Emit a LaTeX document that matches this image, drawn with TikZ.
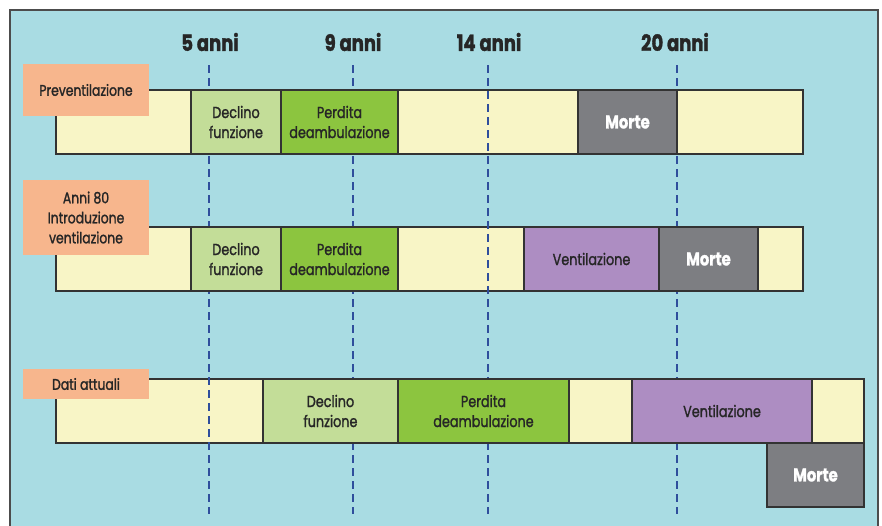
\documentclass[tikz,border=0pt]{standalone}
\usepackage{fontspec}
\setmainfont{Poppins}[FakeStretch=0.8, FakeBold=1.4]
\usetikzlibrary{positioning}

\definecolor{sfondo}{HTML}{A9DCE3}
\definecolor{giallo}{HTML}{F8F5C6}
\definecolor{verdino}{HTML}{C3DD98}
\definecolor{verde}{HTML}{8CC53F}
\definecolor{viola}{HTML}{AD8DC2}
\definecolor{grigio}{HTML}{7D7E82}
\definecolor{arancio}{HTML}{F7B68D}
\definecolor{tratto}{HTML}{2F4E9C}

\tikzset{
  seg/.style={draw=black!80, line width=1.1pt, outer sep=0pt, inner sep=0pt,
    minimum height=64pt, align=center, text=black!85,
    font=\fontsize{16}{20}\selectfont},
  barra/.style={seg, fill=giallo},
  declino/.style={seg, fill=verdino},
  perdita/.style={seg, fill=verde},
  ventil/.style={seg, fill=viola},
  morte/.style={seg, fill=grigio, text=white, font=\fontsize{18.5}{20}\selectfont\bfseries},
  etichetta/.style={fill=arancio, minimum width=126pt, inner sep=0pt, align=center,
    text=black!85, font=\fontsize{15.5}{20}\selectfont},
  anni/.style={font=\fontsize{22.5}{24}\selectfont\bfseries, text=black!85},
  tacca/.style={tratto, line width=2.2pt, dash pattern=on 7.5pt off 5.5pt}
}

\begin{document}
\begin{tikzpicture}[x=1pt,y=-1pt]
\clip (0,0) rectangle (882,525);
\fill[white] (0,0) rectangle (882,525);
\draw[fill=sfondo, draw=black!70, line width=1.2pt] (10,10) rectangle (878,540);

% eta'
\node[anni] (h5) at (210,42) {5 anni};
\node[anni] (h9) at (353,42) {9 anni};
\node[anni] (h14) at (489,42) {14 anni};
\node[anni] (h20) at (675,42) {20 anni};

% barre
\node[barra, minimum width=747pt] (bar1) at (429.5,122) {};
\node[barra, minimum width=747pt] (bar2) at (429.5,259) {};
\node[barra, minimum width=808pt] (bar3) at (460,411) {};

\coordinate (t5) at (209,65);
\coordinate (t9) at (353,65);
\coordinate (t14) at (488,65);
\coordinate (t20) at (677,65);
\coordinate (b5) at (209,514);
\coordinate (b9) at (353,514);
\coordinate (b14) at (488,514);
\coordinate (b20) at (677,514);

\draw[tacca] (t5) -- (b5);
\draw[tacca] (t9) -- (b9);
\draw[tacca] (t14) -- (b14);
\draw[tacca] (t20) -- (b20);

% preventilazione
\node[declino, minimum width=90pt, anchor=west] (d1) at ([xshift=135pt]bar1.west) {Declino\\funzione};
\node[perdita, minimum width=117pt, right=0pt of d1] (p1) {Perdita\\deambulazione};
\node[morte, minimum width=99pt, anchor=west] (m1) at ([xshift=522pt]bar1.west) {Morte};
\node[etichetta, minimum height=52pt] (lab1) at (86,90) {Preventilazione};

% anni 80
\node[declino, minimum width=90pt, anchor=west] (d2) at ([xshift=135pt]bar2.west) {Declino\\funzione};
\node[perdita, minimum width=117pt, right=0pt of d2] (p2) {Perdita\\deambulazione};
\node[ventil, minimum width=135pt, anchor=west] (v2) at ([xshift=468pt]bar2.west) {Ventilazione};
\node[morte, minimum width=99pt, right=0pt of v2] (m2) {Morte};
\node[etichetta, minimum height=75pt] (lab2) at (86,217.5) {Anni 80\\Introduzione\\ventilazione};

% dati attuali
\node[declino, minimum width=135pt, anchor=west] (d3) at ([xshift=207pt]bar3.west) {Declino\\funzione};
\node[perdita, minimum width=171pt, right=0pt of d3] (p3) {Perdita\\deambulazione};
\node[ventil, minimum width=180pt, anchor=west] (v3) at ([xshift=576pt]bar3.west) {Ventilazione};
\node[morte, minimum width=97pt, anchor=north east] (m3) at (bar3.south east) {Morte};
\node[etichetta, minimum height=30pt] (lab3) at (86,384) {Dati attuali};
\end{tikzpicture}
\end{document}
